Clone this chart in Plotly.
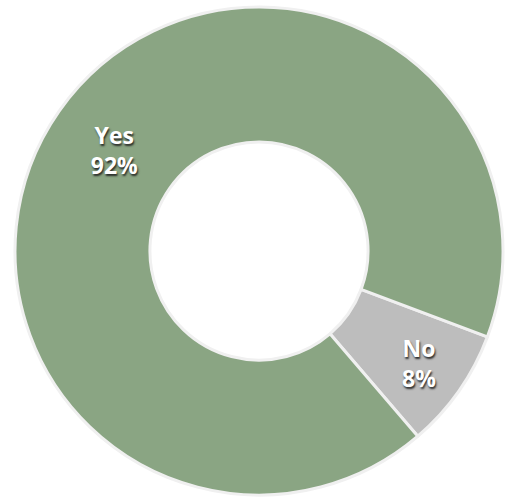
import plotly.graph_objects as go

# Survey answers and their shares
labels = ["No", "Yes"]
values = [8, 92]
colors = ["#bdbdbd", "#8aa583"]

fig = go.Figure(
    go.Pie(
        labels=labels,
        values=values,
        hole=0.447,
        sort=False,
        direction="clockwise",
        rotation=110.6,
        marker=dict(colors=colors, line=dict(color="#f0f0f0", width=3)),
        texttemplate="%{label}<br>%{percent:.0%}",
        textposition="inside",
        insidetextorientation="horizontal",
        textfont=dict(
            family="'Open Sans', sans-serif",
            size=23,
            color="white",
            weight=700,
            shadow="1px 2px 2px rgba(30,30,30,0.9)",
        ),
        showlegend=False,
        hoverinfo="label+percent",
    )
)

fig.update_layout(
    width=507,
    height=497,
    margin=dict(l=15, r=4, t=7, b=2),
    paper_bgcolor="white",
    plot_bgcolor="white",
)

fig.write_html("out.html")
